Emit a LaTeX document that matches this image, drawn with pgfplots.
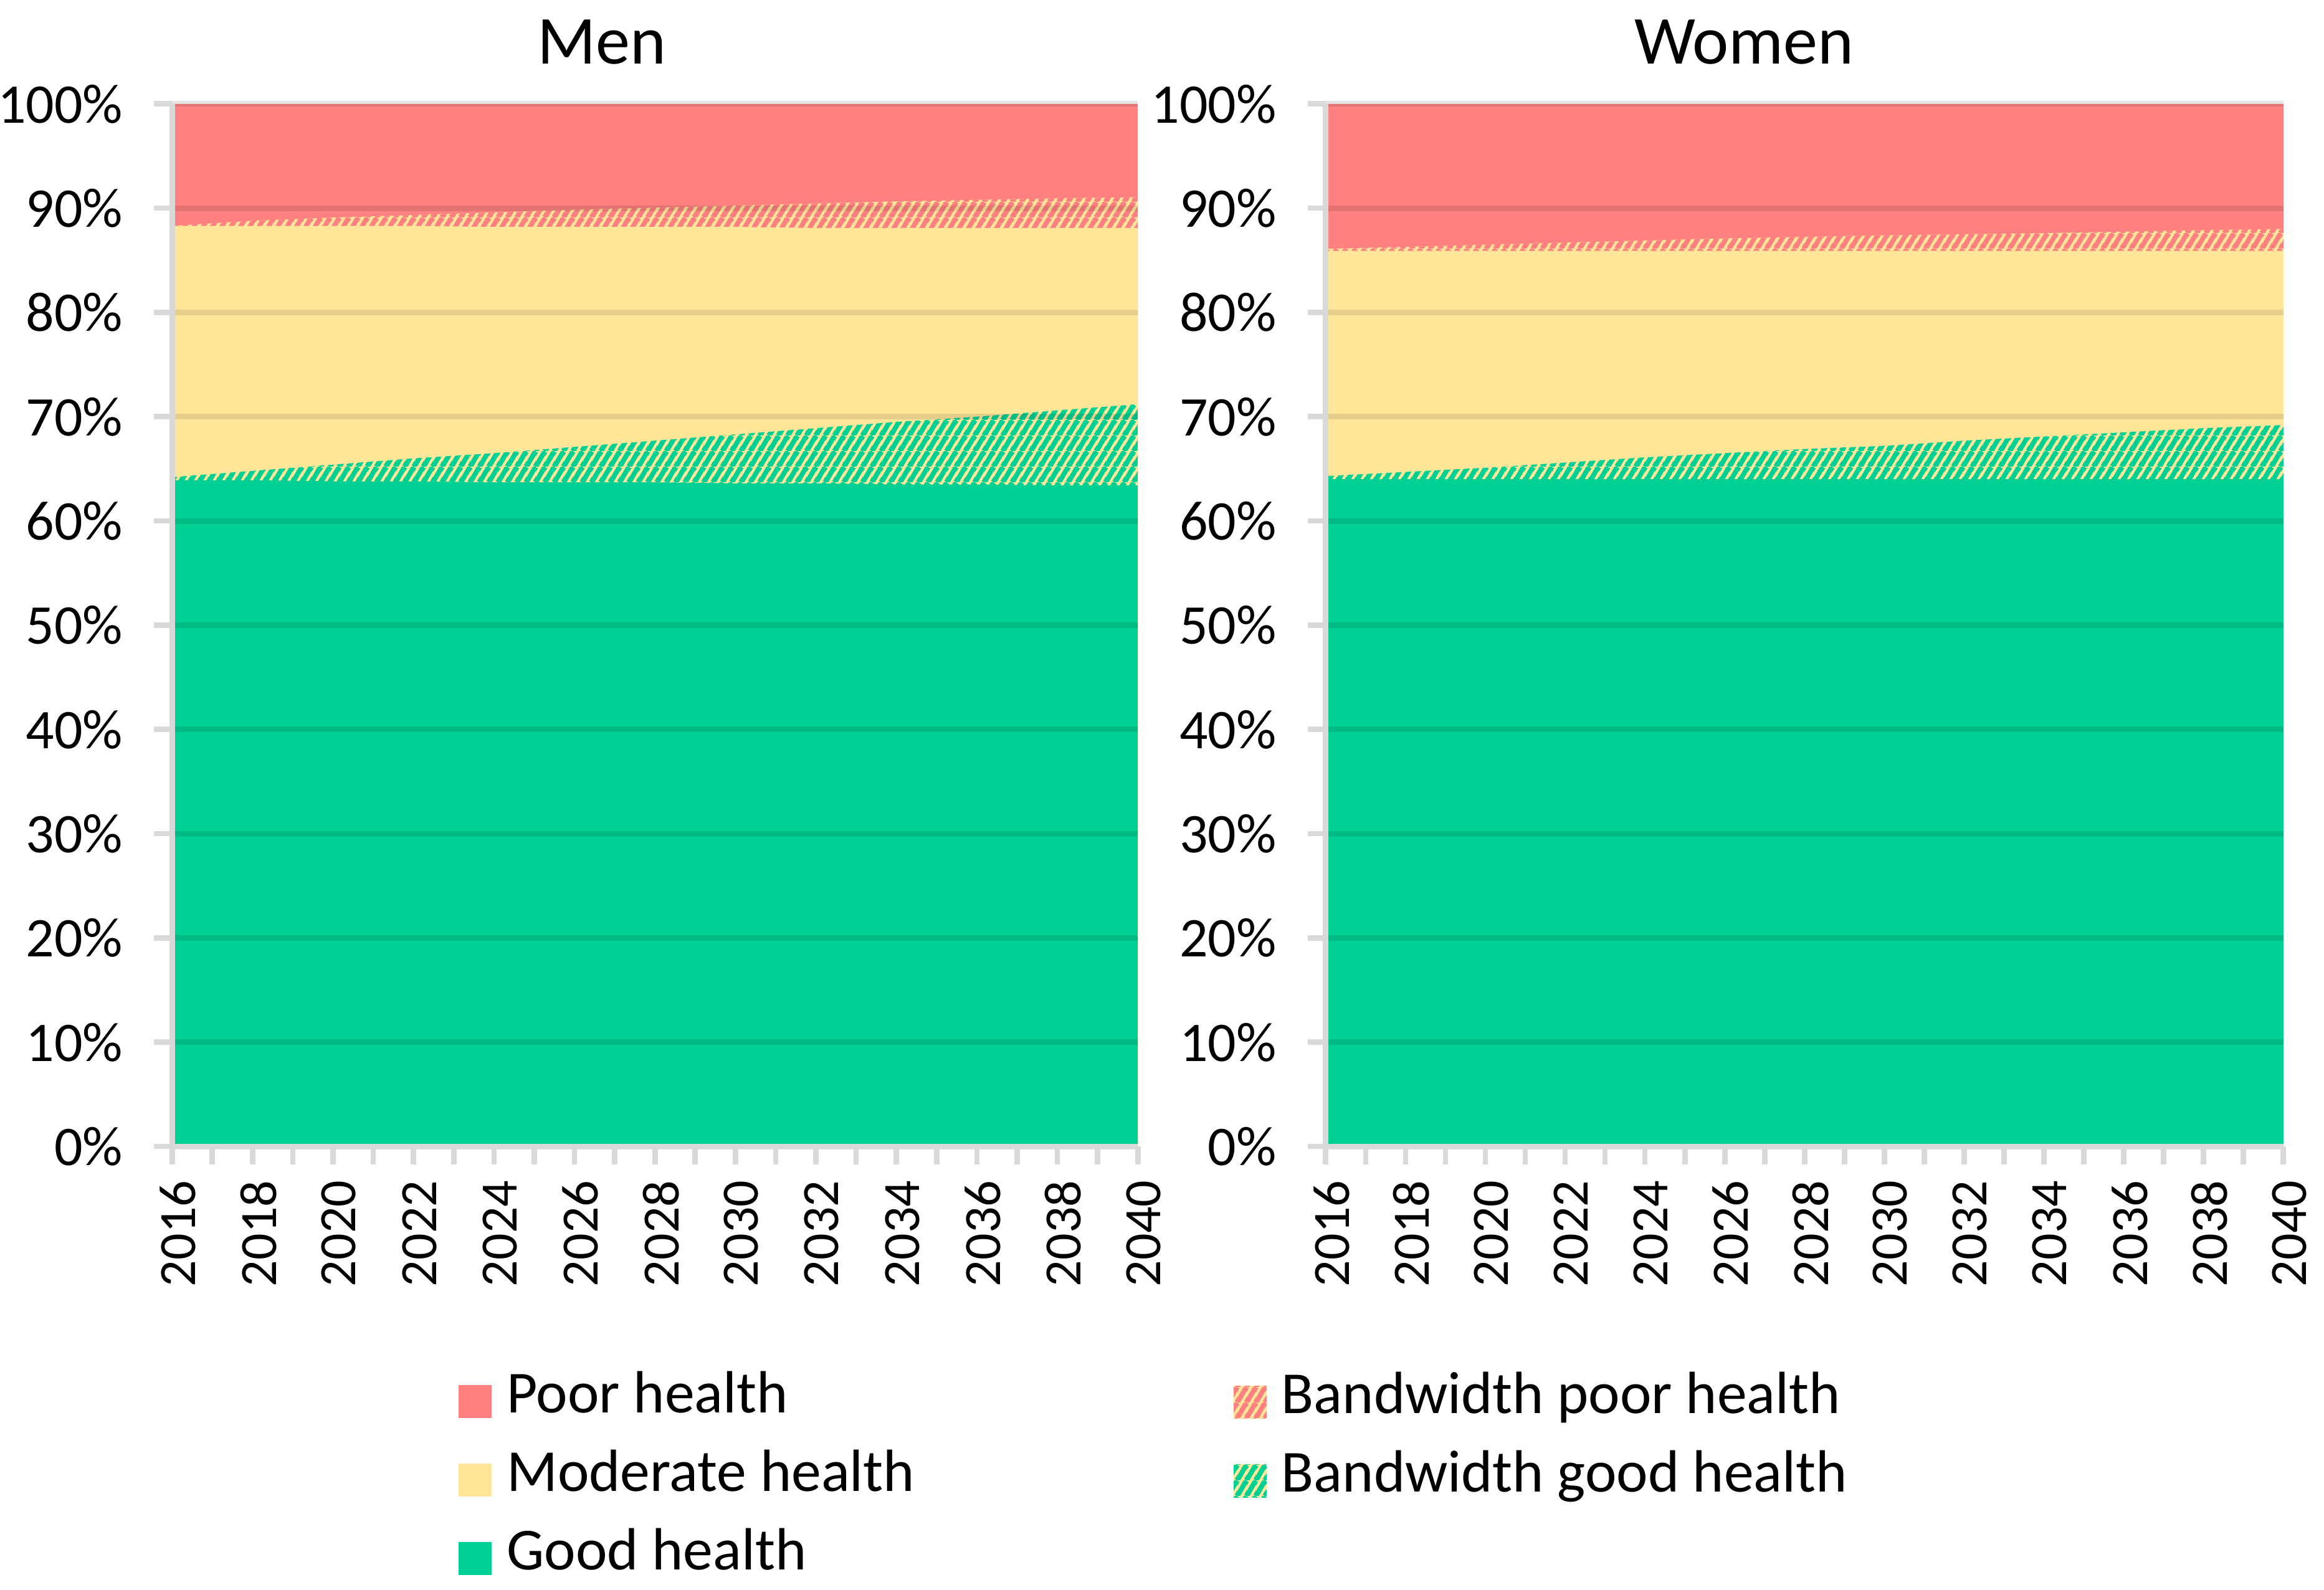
\documentclass[border=0pt]{standalone}
\usepackage{fontspec}
\setmainfont{Carlito}
\usepackage{pgfplots}
\usepackage{pgfplotstable}
\pgfplotsset{compat=1.18}
\usetikzlibrary{patterns}

\definecolor{poorc}{RGB}{255,128,128}
\definecolor{modc}{RGB}{255,230,153}
\definecolor{goodc}{RGB}{0,208,148}
\definecolor{axgray}{RGB}{217,217,217}

\pgfdeclarepatternformonly{hatch}{\pgfqpoint{0pt}{0pt}}{\pgfqpoint{2pt}{3.46pt}}{\pgfqpoint{2pt}{3.46pt}}{%
  \pgfsetlinewidth{1.1pt}%
  \pgfpathmoveto{\pgfqpoint{-2pt}{0pt}}\pgfpathlineto{\pgfqpoint{0pt}{3.46pt}}%
  \pgfpathmoveto{\pgfqpoint{-1pt}{-1.73pt}}\pgfpathlineto{\pgfqpoint{3pt}{5.19pt}}%
  \pgfpathmoveto{\pgfqpoint{2pt}{0pt}}\pgfpathlineto{\pgfqpoint{4pt}{3.46pt}}%
  \pgfusepath{stroke}}

% year, good health top, bandwidth good top, moderate top, bandwidth poor top, poor top
\pgfplotstableread{
year good gb mt up top
2016 63.9 64.2 88.3 88.3 100
2018 63.9 64.8 88.3 88.8 100
2020 63.8 65.4 88.3 89.1 100
2022 63.8 66.0 88.3 89.35 100
2024 63.7 66.5 88.2 89.6 100
2026 63.7 67.1 88.2 89.85 100
2028 63.7 67.7 88.2 90.05 100
2030 63.6 68.3 88.2 90.25 100
2032 63.6 68.9 88.1 90.45 100
2034 63.5 69.5 88.1 90.65 100
2036 63.5 70.0 88.1 90.8 100
2038 63.4 70.6 88.1 90.95 100
2040 63.4 71.2 88.1 91.05 100
}\men

\pgfplotstableread{
year good gb mt up top
2016 64.0 64.3 85.9 86.1 100
2018 64.0 64.7 85.9 86.3 100
2020 64.0 65.1 85.9 86.5 100
2022 64.0 65.6 85.9 86.7 100
2024 64.0 66.1 85.9 86.9 100
2026 64.0 66.5 85.9 87.1 100
2028 64.0 66.9 85.9 87.25 100
2030 64.0 67.2 85.9 87.4 100
2032 64.0 67.7 85.9 87.5 100
2034 64.0 68.1 85.9 87.6 100
2036 64.0 68.5 85.9 87.75 100
2038 64.0 68.9 85.9 87.9 100
2040 64.0 69.2 85.9 88.0 100
}\women

\pgfplotsset{
  panel/.style={
    scale only axis, width=213.8pt, height=230.8pt,
    xmin=2016, xmax=2040, ymin=0, ymax=100,
    axis on top,
    axis lines*=left,
    axis line style={axgray, line width=1.2pt, -},
    xtick={2016,2018,2020,2022,2024,2026,2028,2030,2032,2034,2036,2038,2040},
    xticklabels={2016,2018,2020,2022,2024,2026,2028,2030,2032,2034,2036,2038,2040},
    minor xtick={2017,2019,2021,2023,2025,2027,2029,2031,2033,2035,2037,2039},
    ytick={0,10,20,30,40,50,60,70,80,90,100},
    yticklabels={0\%,10\%,20\%,30\%,40\%,50\%,60\%,70\%,80\%,90\%,100\%},
    tick align=outside, major tick length=4pt, minor tick length=4pt,
    tick style={axgray, line width=1.2pt},
    ymajorgrids, grid style={black, opacity=0.1, line width=1.25pt},
    xticklabel style={rotate=90, anchor=east, yshift=-1.3pt, font=\fontsize{11.6}{13}\selectfont},
    yticklabel style={xshift=-3.4pt, font=\fontsize{12.4}{14}\selectfont},
    title style={anchor=base, yshift=2.8pt, font=\fontsize{15.2}{18}\selectfont},
    legend image code/.code={\draw[##1, draw=none] (0pt,-3.65pt) rectangle (7.3pt,3.65pt);},
    legend style={draw=none, fill=none, inner xsep=0pt, inner ysep=0pt,
      row sep=3.4pt, column sep=1.3pt, font=\fontsize{13.2}{15}\selectfont,
      nodes={inner sep=2pt, text height=0.75em, text depth=0.25em},
      cells={anchor=west}},
  },
  poorsty/.style={draw=none, fill=poorc},
  bpsty/.style={draw=none, fill=modc, postaction={pattern=hatch, pattern color=poorc}},
  modsty/.style={draw=none, fill=modc},
  bgsty/.style={draw=none, fill=modc, postaction={pattern=hatch, pattern color=goodc}},
  goodsty/.style={draw=none, fill=goodc},
}

\begin{document}
\begin{tikzpicture}
\path[use as bounding box] (0,0) rectangle (514.5pt,-351.9pt);

\begin{axis}[panel, at={(38.1pt,-253.8pt)}, anchor=south west,
  title={Men}, title style={at={(0.445,1)}},
  legend style={at={(0.296,-0.320)}, anchor=west}]
  \addplot[poorsty, forget plot] table[x=year, y=top]{\men} \closedcycle;
  \addplot[bpsty, forget plot] table[x=year, y=up]{\men} \closedcycle;
  \addplot[modsty, forget plot] table[x=year, y=mt]{\men} \closedcycle;
  \addplot[bgsty, forget plot] table[x=year, y=gb]{\men} \closedcycle;
  \addplot[goodsty, forget plot] table[x=year, y=good]{\men} \closedcycle;
  \addlegendimage{poorsty}
  \addlegendentry{Poor health}
  \addlegendimage{modsty}
  \addlegendentry{Moderate health}
  \addlegendimage{goodsty}
  \addlegendentry{Good health}
\end{axis}

\begin{axis}[panel, width=212pt, at={(293.5pt,-253.8pt)}, anchor=south west,
  title={Women}, title style={at={(0.437,1)}},
  legend style={at={(-0.0971,-0.283)}, anchor=west}]
  \addplot[poorsty, forget plot] table[x=year, y=top]{\women} \closedcycle;
  \addplot[bpsty, forget plot] table[x=year, y=up]{\women} \closedcycle;
  \addplot[modsty, forget plot] table[x=year, y=mt]{\women} \closedcycle;
  \addplot[bgsty, forget plot] table[x=year, y=gb]{\women} \closedcycle;
  \addplot[goodsty, forget plot] table[x=year, y=good]{\women} \closedcycle;
  \addlegendimage{bpsty}
  \addlegendentry{Bandwidth poor health}
  \addlegendimage{bgsty}
  \addlegendentry{Bandwidth good health}
\end{axis}
\end{tikzpicture}
\end{document}
